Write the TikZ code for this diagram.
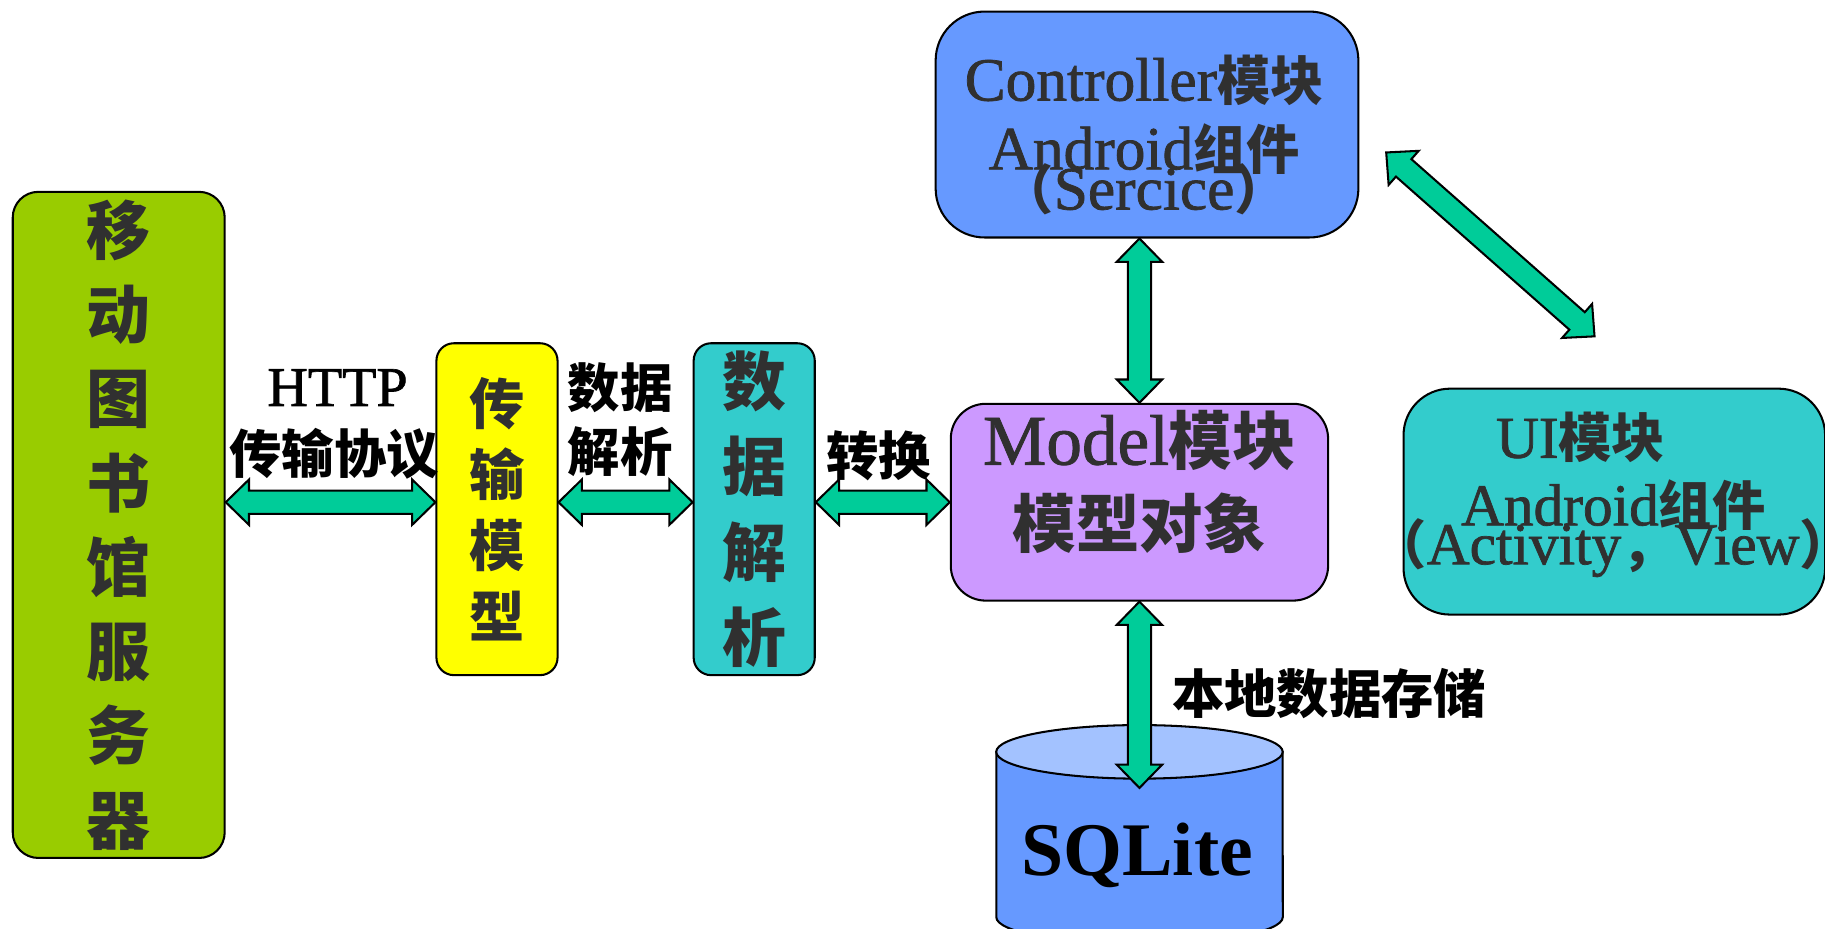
\documentclass[tikz,border=0pt]{standalone}
\usepackage{fontspec}
\setmainfont{Liberation Serif}
\newfontfamily\latb{Liberation Serif}[FakeBold=1.2]
\newfontfamily\cjk{Noto Sans CJK SC}
\usetikzlibrary{calc}

\definecolor{srvgreen}{HTML}{99CC00}
\definecolor{tmyellow}{HTML}{FFFF00}
\definecolor{dpcyan}{HTML}{33CCCC}
\definecolor{mdlilac}{HTML}{CC99FF}
\definecolor{ctlblue}{HTML}{6699FF}
\definecolor{dbtop}{HTML}{A3C2FF}
\definecolor{arrgreen}{HTML}{00CC99}
\definecolor{darktext}{HTML}{303030}

\newcommand\zh[2]{{\cjk\bfseries\fontsize{#1}{#1}\selectfont #2}}

\tikzset{
  box/.style={draw=black, line width=0.5pt, rounded corners=0.2cm, inner sep=0pt, align=center, text=darktext},
  boxtext/.style={inner sep=0pt, align=center, text=darktext},
  zhlbl/.style={inner sep=0pt, text=black, font=\cjk\bfseries\fontsize{12.8}{16}\selectfont},
  fatarr/.style={draw=black, line width=0.5pt, fill=arrgreen, line join=miter}
}

% fat double arrow from #1 to #2
\newcommand\fatarrow[2]{%
  \coordinate (fa-s) at ($(#1)!0.2cm!(#2)$);
  \coordinate (fa-e) at ($(#2)!0.2cm!(#1)$);
  \draw[fatarr] (#1) -- ($(fa-s)!0.195cm!90:(#2)$) -- ($(fa-s)!0.1cm!90:(#2)$)
    -- ($(fa-e)!0.1cm!-90:(#1)$) -- ($(fa-e)!0.195cm!-90:(#1)$) -- (#2)
    -- ($(fa-e)!0.195cm!90:(#1)$) -- ($(fa-e)!0.1cm!90:(#1)$)
    -- ($(fa-s)!0.1cm!-90:(#2)$) -- ($(fa-s)!0.195cm!-90:(#2)$) -- cycle;}

\begin{document}
\begin{tikzpicture}[x=0.01cm, y=-0.01cm]
\useasboundingbox (0,0) rectangle (1568,798);

% server, transfer model, data parsing
\node[box, fill=srvgreen, minimum width=1.82cm, minimum height=5.72cm, rounded corners=0.22cm,
  font=\cjk\bfseries\fontsize{15.6}{20.6}\selectfont] (srv) at (102,451)
  {移\\动\\图\\书\\馆\\服\\务\\器};
\node[box, fill=tmyellow, minimum width=1.04cm, minimum height=2.85cm, rounded corners=0.15cm,
  font=\cjk\bfseries\fontsize{13.5}{17.4}\selectfont] (tm) at (427,437.5)
  {传\\输\\模\\型};
\node[box, fill=dpcyan, minimum width=1.04cm, minimum height=2.85cm, rounded corners=0.15cm,
  font=\cjk\bfseries\fontsize{15.6}{20.8}\selectfont] (dp) at (648,437.5)
  {数\\据\\解\\析};

% model, controller, UI
\node[box, fill=mdlilac, minimum width=3.24cm, minimum height=1.69cm, rounded corners=0.3cm] (model) at (979,431.5) {};
\node[boxtext, font=\latb\fontsize{17.4}{20.2}\selectfont] (modeltxt) at (979,414)
  {Model\zh{15.5}{模块}\\\zh{15.5}{模型对象}};
\node[box, fill=ctlblue, minimum width=3.63cm, minimum height=1.94cm, rounded corners=0.42cm] (ctl) at (985.5,107) {};
\node[boxtext, font=\latb\fontsize{15}{16.8}\selectfont] (ctltxt) at (983,116)
  {Controller\zh{13}{模块}\\Android\zh{13}{组件}\\[-7pt]\zh{13}{（}Sercice\zh{13}{）}};
\node[box, fill=dpcyan, minimum width=3.62cm, minimum height=1.94cm, rounded corners=0.4cm] (ui) at (1387,431) {};
\node[boxtext, font=\latb\fontsize{14.5}{16.5}\selectfont] (uitxt) at (1386,425)
  {UI\zh{13}{模块}\hspace*{0.56cm}\\Android\zh{13}{组件}\hspace*{0.58cm}\\[-7pt]\kern-0.45em\zh{13}{（}Activity\zh{13}{，}View\zh{13}{）}\kern-0.45em};

% SQLite
\draw[line width=0.5pt, fill=ctlblue] (856,646) -- (856,788)
  arc[start angle=180, end angle=360, x radius=1.23cm, y radius=0.23cm] -- (1102,646) -- cycle;
\draw[line width=0.5pt, fill=dbtop] (979,646) ellipse [x radius=1.23cm, y radius=0.23cm];
\node[inner sep=0pt, font=\bfseries\fontsize{18.5}{22}\selectfont] (sql) at (977,735) {SQLite};

% labels
\node[inner sep=0pt, font=\latb\fontsize{13.7}{16}\selectfont] (http) at (290,333) {HTTP};
\node[zhlbl] (httpzh) at (287,390) {传输协议};
\node[zhlbl] (parse1) at (533,333) {数据};
\node[zhlbl] (parse2) at (533,388) {解析};
\node[zhlbl] (conv) at (755,392) {转换};
\node[zhlbl] (store) at (1142,596) {本地数据存储};

% arrows
\coordinate (a1) at (srv.east |- model.west);
\coordinate (a2) at (tm.west |- model.west);
\coordinate (a3) at (tm.east |- model.west);
\coordinate (a4) at (dp.west |- model.west);
\coordinate (a5) at (dp.east |- model.west);
\coordinate (a6) at (model.north |- ctl.south);
\coordinate (dbin) at (979,677);
\coordinate (ctlui) at (1191,131);
\coordinate (uictl) at (1370,289);
\fatarrow{a1}{a2}
\fatarrow{a3}{a4}
\fatarrow{a5}{model.west}
\fatarrow{a6}{model.north}
\fatarrow{model.south}{dbin}
\fatarrow{ctlui}{uictl}
\end{tikzpicture}
\end{document}
